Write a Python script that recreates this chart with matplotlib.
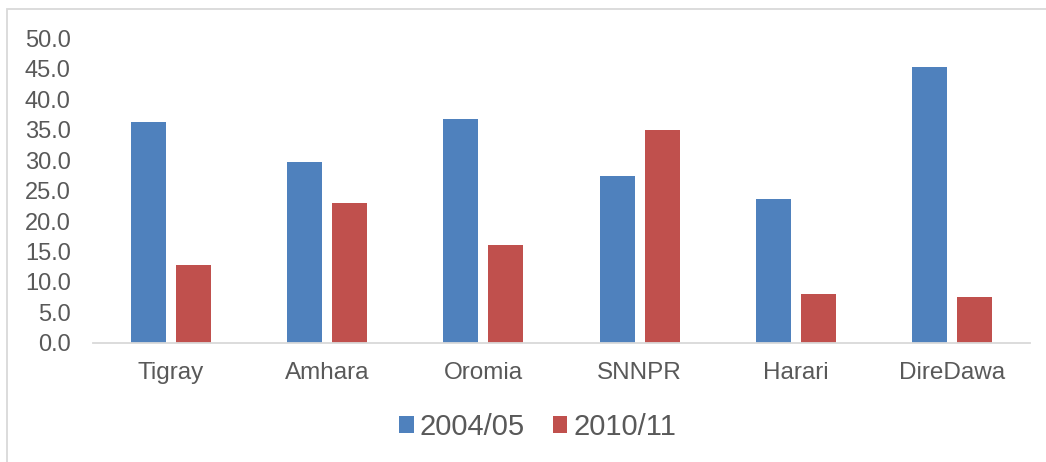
# Bar chart of regional values, 2004/05 vs 2010/11

import matplotlib.pyplot as plt
import numpy as np
from matplotlib.patches import Rectangle

regions = ["Tigray", "Amhara", "Oromia", "SNNPR", "Harari", "DireDawa"]
series_names = ["2004/05", "2010/11"]
values_0405 = [36.3, 29.7, 36.7, 27.4, 23.6, 45.2]
values_1011 = [12.8, 23.0, 16.0, 34.9, 8.0, 7.6]
y_ticks = np.arange(0, 50.1, 5)

blue = "#4F81BD"
red = "#C0504D"
text_col = "#595959"
line_col = "#D9D9D9"

plt.rcParams["font.family"] = ["Liberation Sans", "DejaVu Sans"]

fig = plt.figure(figsize=(10.46, 4.62), dpi=100)
ax = fig.add_axes([0.0889, 0.2576, 0.8958, 0.6601])

# light chart frame, partly cut off by the image edge
fig.patches.append(Rectangle((7 / 1046, -0.1), 1.2, 1 - 9 / 462 + 0.1,
                             transform=fig.transFigure, fill=False,
                             edgecolor=line_col, linewidth=1.3))

x = np.arange(len(regions))
w = 0.224
off = 0.144
ax.bar(x - off, values_0405, width=w, color=blue, label=series_names[0])
ax.bar(x + off, values_1011, width=w, color=red, label=series_names[1])

ax.set_xlim(-0.5, len(regions) - 0.5)
ax.set_ylim(0, 50)
ax.set_yticks(y_ticks)
ax.set_yticklabels([f"{v:.1f}" for v in y_ticks])
ax.set_xticks(x)
ax.set_xticklabels(regions)

for s in ["top", "right", "left"]:
    ax.spines[s].set_visible(False)
ax.spines["bottom"].set_color(line_col)
ax.spines["bottom"].set_linewidth(1.3)
ax.tick_params(axis="y", length=0, pad=16, labelsize=17, labelcolor=text_col)
ax.tick_params(axis="x", length=0, pad=14, labelsize=17.5, labelcolor=text_col)

fig.legend(loc="center", bbox_to_anchor=(0.514, 0.076), ncol=2, frameon=False,
           fontsize=21, labelcolor=text_col, handlelength=0.5, handleheight=0.5,
           handletextpad=0.2, columnspacing=0.95)

fig.savefig("out.png", dpi=100)
